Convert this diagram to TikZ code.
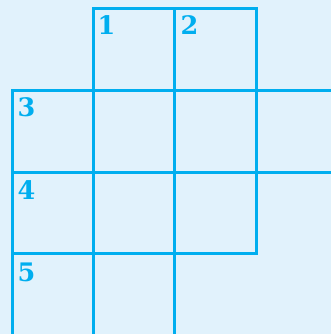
\documentclass[tikz,border=0pt]{standalone}
\usepackage{fontspec}
\newfontfamily\cluefont{DejaVu Serif}
\definecolor{gridblue}{RGB}{0,174,239}
\definecolor{bgblue}{RGB}{225,242,252}
\tikzset{
  gridline/.style={draw=gridblue, line width=3pt, line cap=rect},
  clue/.style={anchor=base west, inner sep=0pt, text=gridblue, font=\cluefont\fontsize{25.5}{25.5}\selectfont\bfseries}
}
\begin{document}
\begin{tikzpicture}[x=1pt,y=-1pt]
\fill[bgblue] (0,0) rectangle (331,334);
\useasboundingbox (0,0) rectangle (331,334);
% horizontal lines
\draw[gridline] (93,9) -- (256,9);
\draw[gridline] (12,90.5) -- (340,90.5);
\draw[gridline] (12,172) -- (340,172);
\draw[gridline] (12,253) -- (256,253);
% vertical lines
\draw[gridline] (12.5,90.5) -- (12.5,340);
\draw[gridline] (93,9) -- (93,340);
\draw[gridline] (174,9) -- (174,340);
\draw[gridline] (256,9) -- (256,253);
% numbers
\node[clue] (n1) at (97.5,35) {1};
\node[clue] (n2) at (180.5,35) {2};
\node[clue] (n3) at (17.5,117) {3};
\node[clue] (n4) at (17.5,199.5) {4};
\node[clue] (n5) at (17.5,281.5) {5};
\end{tikzpicture}
\end{document}
